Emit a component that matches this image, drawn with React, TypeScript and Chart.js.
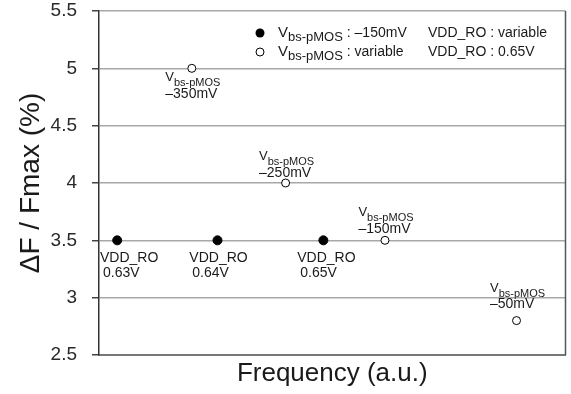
import React, { useEffect, useRef } from 'react';
import { Chart, registerables } from 'chart.js';

Chart.register(...registerables);

const FONT = '"Liberation Sans", Arial, Helvetica, sans-serif';

// Series 1 (filled): Vbs-pMOS = -150mV, VDD_RO variable
const vddX = [3.9, 25.4, 48.1];
const vddY = [3.5, 3.5, 3.5];
const vddLabels = ['0.63V', '0.64V', '0.65V'];

// Series 2 (open): Vbs-pMOS variable, VDD_RO = 0.65V
const vbsX = [19.9, 40.0, 61.3, 89.5];
const vbsY = [5.0, 4.0, 3.5, 2.8];
const vbsLabels = ['–350mV', '–250mV', '–150mV', '–50mV'];

// Legend texts
const legendVbs = ['–150mV', 'variable'];
const legendVdd = ['variable', '0.65V'];

// Axis
const yMin = 2.5;
const yMax = 5.5;
const yStep = 0.5;
const xMin = 0;
const xMax = 100;
const yTitle = 'ΔF / Fmax (%)';
const xTitle = 'Frequency (a.u.)';
const subText = 'bs-pMOS';

// Layout offsets for annotation text (pixels, relative to point): [V line baseline, value line baseline]
const vbsLabelDy = [[13, 30], [-23, -6], [-24, -7], [-29, -13]];
const vddLabelDx = [12, 1, 3];

function drawV(ctx: CanvasRenderingContext2D, x: number, y: number, mainPx: number, subPx: number, drop: number) {
  ctx.font = `${mainPx}px ${FONT}`;
  ctx.fillText('V', x, y);
  const w = ctx.measureText('V').width;
  ctx.font = `${subPx}px ${FONT}`;
  ctx.fillText(subText, x + w, y + drop);
  return w + ctx.measureText(subText).width;
}

function measureV(ctx: CanvasRenderingContext2D, mainPx: number, subPx: number) {
  ctx.font = `${mainPx}px ${FONT}`;
  const w = ctx.measureText('V').width;
  ctx.font = `${subPx}px ${FONT}`;
  return w + ctx.measureText(subText).width;
}

const annotationPlugin = {
  id: 'annotations',
  afterDatasetsDraw(chart: any) {
    const ctx: CanvasRenderingContext2D = chart.ctx;
    const xs = chart.scales.x;
    const ys = chart.scales.y;
    const area = chart.chartArea;
    ctx.save();
    ctx.fillStyle = '#1a1a1a';
    ctx.textAlign = 'left';
    ctx.textBaseline = 'alphabetic';

    // right border
    ctx.strokeStyle = '#555';
    ctx.lineWidth = 1.5;
    ctx.beginPath();
    ctx.moveTo(area.right, area.top);
    ctx.lineTo(area.right, area.bottom);
    ctx.stroke();

    // open-point annotations
    vbsX.forEach((xv, i) => {
      const px = xs.getPixelForValue(xv);
      const py = ys.getPixelForValue(vbsY[i]);
      const bw = measureV(ctx, 13, 11);
      const left = px - bw / 2 + 1;
      drawV(ctx, left, py + vbsLabelDy[i][0], 13, 11, 5);
      ctx.font = `14px ${FONT}`;
      ctx.fillText(vbsLabels[i], left, py + vbsLabelDy[i][1]);
    });

    // filled-point annotations
    vddX.forEach((xv, i) => {
      const px = xs.getPixelForValue(xv) + vddLabelDx[i];
      const py = ys.getPixelForValue(vddY[i]);
      ctx.font = `14px ${FONT}`;
      const w = ctx.measureText('VDD_RO').width;
      const left = px - w / 2;
      ctx.fillText('VDD_RO', left, py + 22);
      ctx.fillText(vddLabels[i], left + 3, py + 37);
    });

    // legend
    const lx = area.left + 161;
    const rows = [area.top + 22, area.top + 41];
    rows.forEach((ry, i) => {
      ctx.beginPath();
      if (i === 0) {
        ctx.fillStyle = '#000';
        ctx.arc(lx, ry, 4.5, 0, Math.PI * 2);
        ctx.fill();
      } else {
        ctx.fillStyle = '#fff';
        ctx.strokeStyle = '#000';
        ctx.lineWidth = 1;
        ctx.arc(lx, ry, 4, 0, Math.PI * 2);
        ctx.fill();
        ctx.stroke();
      }
      ctx.fillStyle = '#1a1a1a';
      const base = ry + 4;
      const tx = lx + 18;
      const w = drawV(ctx, tx, base, 15, 13, 4);
      ctx.font = `14px ${FONT}`;
      ctx.fillText(' : ' + legendVbs[i], tx + w, base);
      ctx.fillText('VDD_RO : ' + legendVdd[i], lx + 168, base);
    });

    ctx.restore();
  },
};

export default function App() {
  const ref = useRef<HTMLCanvasElement | null>(null);

  useEffect(() => {
    if (!ref.current) return;
    const chart = new Chart(ref.current, {
      type: 'scatter',
      data: {
        datasets: [
          {
            label: 'Vbs-pMOS : –150mV  VDD_RO : variable',
            data: vddX.map((x, i) => ({ x, y: vddY[i] })),
            pointRadius: 4.5,
            pointBackgroundColor: '#000',
            pointBorderColor: '#000',
            pointBorderWidth: 1,
          },
          {
            label: 'Vbs-pMOS : variable  VDD_RO : 0.65V',
            data: vbsX.map((x, i) => ({ x, y: vbsY[i] })),
            pointRadius: 4,
            pointBackgroundColor: '#fff',
            pointBorderColor: '#000',
            pointBorderWidth: 1,
          },
        ],
      },
      options: {
        responsive: false,
        animation: false,
        devicePixelRatio: 1,
        layout: { padding: { top: 11, right: 4, bottom: 0, left: 0 } },
        plugins: {
          legend: { display: false },
          tooltip: { enabled: false },
        },
        scales: {
          x: {
            type: 'linear',
            min: xMin,
            max: xMax,
            ticks: { display: false },
            grid: { display: false },
            border: { display: true, color: '#777', width: 2 },
            title: {
              display: true,
              text: xTitle,
              color: '#1a1a1a',
              font: { family: FONT, size: 26 },
              padding: { top: 0, bottom: 5 },
            },
            afterFit: (s: any) => {
              s.height = 39;
              s.paddingLeft = 0;
              s.paddingRight = 0;
            },
          },
          y: {
            type: 'linear',
            min: yMin,
            max: yMax,
            ticks: {
              stepSize: yStep,
              color: '#2a2a2a',
              font: { family: FONT, size: 19 },
              padding: 15,
              callback: (v: any) => String(v),
            },
            grid: {
              color: '#a8a8a8',
              lineWidth: 1.5,
              tickLength: 7,
              tickColor: '#444',
            },
            border: { display: true, color: '#333', width: 1.5 },
            title: {
              display: true,
              text: yTitle,
              color: '#1a1a1a',
              font: { family: FONT, size: 28 },
              padding: { top: 14, bottom: 0 },
            },
            afterFit: (s: any) => {
              s.width = 99;
              s.paddingTop = 0;
              s.paddingBottom = 0;
            },
          },
        },
      },
      plugins: [annotationPlugin],
    });
    return () => chart.destroy();
  }, []);

  return (
    <div style={{ position: 'absolute', left: 0, top: 0, width: 571, height: 394, background: '#fff' }}>
      <canvas ref={ref} width={571} height={394} style={{ display: 'block' }} />
    </div>
  );
}
